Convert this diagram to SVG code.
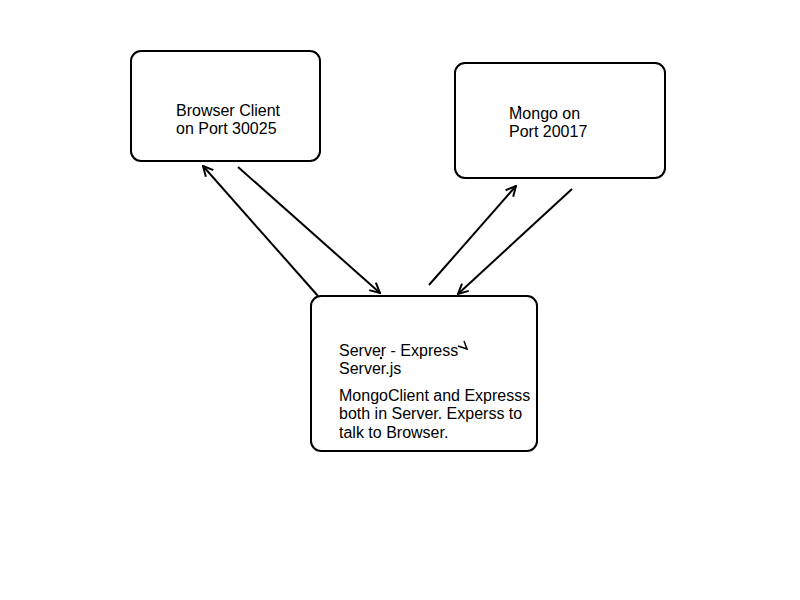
<svg xmlns="http://www.w3.org/2000/svg" width="800" height="600" viewBox="0 0 800 600">
<defs>
<style>
.node{fill:#fff;stroke:#000;stroke-width:2}
.t{font-family:"Liberation Sans",Arial,sans-serif;font-size:16px;fill:#000}
.c{stroke:#000;stroke-width:2;fill:none;marker-end:url(#ah)}
.m{stroke:#000;stroke-width:1.5;fill:none}
</style>
<marker id="ah" viewBox="0 0 12 12" refX="11" refY="6" markerWidth="12" markerHeight="12" markerUnits="userSpaceOnUse" orient="auto">
<path d="M1,1 L11,6 L1,11" fill="none" stroke="#000" stroke-width="2"/>
</marker>
</defs>
<rect width="800" height="600" fill="#fff"/>
<g id="connectors">
<line class="c" x1="318" y1="296" x2="203" y2="166"/>
<line class="c" x1="238" y1="167" x2="380" y2="293"/>
<line class="c" x1="429" y1="285" x2="516" y2="186"/>
<line class="c" x1="572" y1="189" x2="458" y2="294"/>
</g>
<g id="browser">
<rect class="node" x="131" y="51" width="189" height="110" rx="10"/>
<text class="t" x="176" y="116">Browser Client</text>
<text class="t" x="176" y="134">on Port 30025</text>
</g>
<g id="mongo">
<rect class="node" x="455" y="63" width="210" height="115" rx="10"/>
<text class="t" x="509" y="119">Mongo on</text>
<text class="t" x="509" y="137">Port 20017</text>
<circle cx="519" cy="107" r="1.2" fill="#000"/>
</g>
<g id="server">
<rect class="node" x="311" y="296" width="226" height="155" rx="10"/>
<text class="t" x="339" y="356">Server - Express</text>
<text class="t" x="339" y="374">Server.js</text>
<text class="t" x="339" y="401">MongoClient and Expresss</text>
<text class="t" x="339" y="419">both in Server. Experss to</text>
<text class="t" x="339" y="438">talk to Browser.</text>
<path class="m" d="M458,346 L467,349 L464,341"/>
<circle cx="381" cy="358" r="1.2" fill="#000"/>
</g>
</svg>
